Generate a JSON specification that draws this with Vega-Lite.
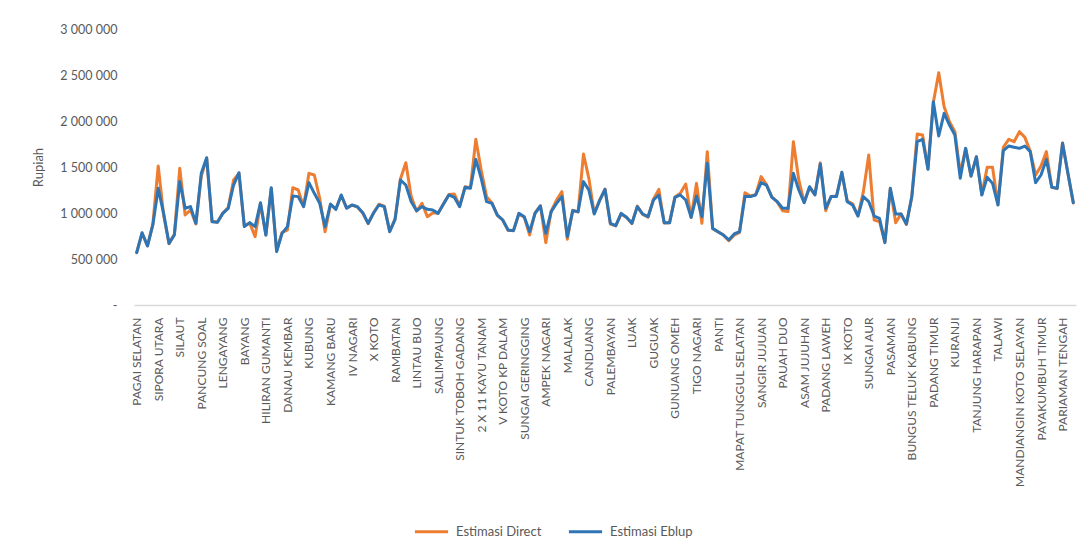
{
  "$schema": "https://vega.github.io/schema/vega-lite/v6.json",
  "autosize": "none",
  "width": 942,
  "height": 276,
  "padding": {"left": 134, "top": 29, "right": 11, "bottom": 241},
  "background": "white",
  "config": {
    "font": "Lato",
    "view": {"stroke": null},
    "axis": {"labelColor": "#595959", "titleColor": "#595959", "labelFont": "Lato", "titleFont": "Lato"}
  },
  "data": {
    "values": [
      {"no": 0, "kecamatan": "PAGAI SELATAN", "Estimasi Direct": 569000, "Estimasi Eblup": 569000},
      {"no": 1, "Estimasi Direct": 780000, "Estimasi Eblup": 786000},
      {"no": 2, "Estimasi Direct": 645000, "Estimasi Eblup": 641000},
      {"no": 3, "Estimasi Direct": 880000, "Estimasi Eblup": 870000},
      {"no": 4, "kecamatan": "SIPORA UTARA", "Estimasi Direct": 1511000, "Estimasi Eblup": 1268000},
      {"no": 5, "Estimasi Direct": 980000, "Estimasi Eblup": 996000},
      {"no": 6, "Estimasi Direct": 665000, "Estimasi Eblup": 670000},
      {"no": 7, "Estimasi Direct": 770000, "Estimasi Eblup": 761000},
      {"no": 8, "kecamatan": "SILAUT", "Estimasi Direct": 1486000, "Estimasi Eblup": 1341000},
      {"no": 9, "Estimasi Direct": 978000, "Estimasi Eblup": 1051000},
      {"no": 10, "Estimasi Direct": 1033000, "Estimasi Eblup": 1069000},
      {"no": 11, "Estimasi Direct": 880000, "Estimasi Eblup": 888000},
      {"no": 12, "kecamatan": "PANCUNG SOAL", "Estimasi Direct": 1400000, "Estimasi Eblup": 1431000},
      {"no": 13, "Estimasi Direct": 1595000, "Estimasi Eblup": 1601000},
      {"no": 14, "Estimasi Direct": 910000, "Estimasi Eblup": 906000},
      {"no": 15, "Estimasi Direct": 900000, "Estimasi Eblup": 899000},
      {"no": 16, "kecamatan": "LENGAYANG", "Estimasi Direct": 1000000, "Estimasi Eblup": 996000},
      {"no": 17, "Estimasi Direct": 1060000, "Estimasi Eblup": 1051000},
      {"no": 18, "Estimasi Direct": 1359000, "Estimasi Eblup": 1304000},
      {"no": 19, "Estimasi Direct": 1430000, "Estimasi Eblup": 1438000},
      {"no": 20, "kecamatan": "BAYANG", "Estimasi Direct": 860000, "Estimasi Eblup": 852000},
      {"no": 21, "Estimasi Direct": 890000, "Estimasi Eblup": 895000},
      {"no": 22, "Estimasi Direct": 743000, "Estimasi Eblup": 852000},
      {"no": 23, "Estimasi Direct": 1100000, "Estimasi Eblup": 1112000},
      {"no": 24, "kecamatan": "HILIRAN GUMANTI", "Estimasi Direct": 760000, "Estimasi Eblup": 761000},
      {"no": 25, "Estimasi Direct": 1270000, "Estimasi Eblup": 1275000},
      {"no": 26, "Estimasi Direct": 590000, "Estimasi Eblup": 580000},
      {"no": 27, "Estimasi Direct": 790000, "Estimasi Eblup": 779000},
      {"no": 28, "kecamatan": "DANAU KEMBAR", "Estimasi Direct": 815000, "Estimasi Eblup": 852000},
      {"no": 29, "Estimasi Direct": 1275000, "Estimasi Eblup": 1185000},
      {"no": 30, "Estimasi Direct": 1250000, "Estimasi Eblup": 1178000},
      {"no": 31, "Estimasi Direct": 1070000, "Estimasi Eblup": 1069000},
      {"no": 32, "kecamatan": "KUBUNG", "Estimasi Direct": 1431000, "Estimasi Eblup": 1330000},
      {"no": 33, "Estimasi Direct": 1413000, "Estimasi Eblup": 1214000},
      {"no": 34, "Estimasi Direct": 1159000, "Estimasi Eblup": 1105000},
      {"no": 35, "Estimasi Direct": 797000, "Estimasi Eblup": 852000},
      {"no": 36, "kecamatan": "KAMANG BARU", "Estimasi Direct": 1090000, "Estimasi Eblup": 1098000},
      {"no": 37, "Estimasi Direct": 1045000, "Estimasi Eblup": 1040000},
      {"no": 38, "Estimasi Direct": 1190000, "Estimasi Eblup": 1196000},
      {"no": 39, "Estimasi Direct": 1055000, "Estimasi Eblup": 1051000},
      {"no": 40, "kecamatan": "IV NAGARI", "Estimasi Direct": 1085000, "Estimasi Eblup": 1087000},
      {"no": 41, "Estimasi Direct": 1065000, "Estimasi Eblup": 1069000},
      {"no": 42, "Estimasi Direct": 1000000, "Estimasi Eblup": 1004000},
      {"no": 43, "Estimasi Direct": 885000, "Estimasi Eblup": 888000},
      {"no": 44, "kecamatan": "X KOTO", "Estimasi Direct": 1000000, "Estimasi Eblup": 1000000},
      {"no": 45, "Estimasi Direct": 1095000, "Estimasi Eblup": 1087000},
      {"no": 46, "Estimasi Direct": 1075000, "Estimasi Eblup": 1069000},
      {"no": 47, "Estimasi Direct": 800000, "Estimasi Eblup": 797000},
      {"no": 48, "kecamatan": "RAMBATAN", "Estimasi Direct": 935000, "Estimasi Eblup": 931000},
      {"no": 49, "Estimasi Direct": 1370000, "Estimasi Eblup": 1359000},
      {"no": 50, "Estimasi Direct": 1547000, "Estimasi Eblup": 1304000},
      {"no": 51, "Estimasi Direct": 1178000, "Estimasi Eblup": 1123000},
      {"no": 52, "kecamatan": "LINTAU BUO", "Estimasi Direct": 1020000, "Estimasi Eblup": 1025000},
      {"no": 53, "Estimasi Direct": 1105000, "Estimasi Eblup": 1069000},
      {"no": 54, "Estimasi Direct": 960000, "Estimasi Eblup": 1040000},
      {"no": 55, "Estimasi Direct": 1000000, "Estimasi Eblup": 1033000},
      {"no": 56, "kecamatan": "SALIMPAUNG", "Estimasi Direct": 1000000, "Estimasi Eblup": 996000},
      {"no": 57, "Estimasi Direct": 1100000, "Estimasi Eblup": 1098000},
      {"no": 58, "Estimasi Direct": 1200000, "Estimasi Eblup": 1196000},
      {"no": 59, "Estimasi Direct": 1207000, "Estimasi Eblup": 1170000},
      {"no": 60, "kecamatan": "SINTUK TOBOH GADANG", "Estimasi Direct": 1075000, "Estimasi Eblup": 1069000},
      {"no": 61, "Estimasi Direct": 1285000, "Estimasi Eblup": 1279000},
      {"no": 62, "Estimasi Direct": 1275000, "Estimasi Eblup": 1268000},
      {"no": 63, "Estimasi Direct": 1801000, "Estimasi Eblup": 1583000},
      {"no": 64, "kecamatan": "2 X 11 KAYU TANAM", "Estimasi Direct": 1467000, "Estimasi Eblup": 1377000},
      {"no": 65, "Estimasi Direct": 1178000, "Estimasi Eblup": 1123000},
      {"no": 66, "Estimasi Direct": 1110000, "Estimasi Eblup": 1105000},
      {"no": 67, "Estimasi Direct": 975000, "Estimasi Eblup": 978000},
      {"no": 68, "kecamatan": "V KOTO KP DALAM", "Estimasi Direct": 925000, "Estimasi Eblup": 924000},
      {"no": 69, "Estimasi Direct": 810000, "Estimasi Eblup": 815000},
      {"no": 70, "Estimasi Direct": 810000, "Estimasi Eblup": 808000},
      {"no": 71, "Estimasi Direct": 990000, "Estimasi Eblup": 996000},
      {"no": 72, "kecamatan": "SUNGAI GERINGGING", "Estimasi Direct": 955000, "Estimasi Eblup": 960000},
      {"no": 73, "Estimasi Direct": 761000, "Estimasi Eblup": 797000},
      {"no": 74, "Estimasi Direct": 1000000, "Estimasi Eblup": 996000},
      {"no": 75, "Estimasi Direct": 1080000, "Estimasi Eblup": 1076000},
      {"no": 76, "kecamatan": "AMPEK NAGARI", "Estimasi Direct": 678000, "Estimasi Eblup": 779000},
      {"no": 77, "Estimasi Direct": 1020000, "Estimasi Eblup": 1015000},
      {"no": 78, "Estimasi Direct": 1141000, "Estimasi Eblup": 1105000},
      {"no": 79, "Estimasi Direct": 1232000, "Estimasi Eblup": 1178000},
      {"no": 80, "kecamatan": "MALALAK", "Estimasi Direct": 714000, "Estimasi Eblup": 743000},
      {"no": 81, "Estimasi Direct": 1030000, "Estimasi Eblup": 1025000},
      {"no": 82, "Estimasi Direct": 1010000, "Estimasi Eblup": 1015000},
      {"no": 83, "Estimasi Direct": 1641000, "Estimasi Eblup": 1341000},
      {"no": 84, "kecamatan": "CANDUANG", "Estimasi Direct": 1377000, "Estimasi Eblup": 1250000},
      {"no": 85, "Estimasi Direct": 995000, "Estimasi Eblup": 989000},
      {"no": 86, "Estimasi Direct": 1140000, "Estimasi Eblup": 1134000},
      {"no": 87, "Estimasi Direct": 1260000, "Estimasi Eblup": 1257000},
      {"no": 88, "kecamatan": "PALEMBAYAN", "Estimasi Direct": 880000, "Estimasi Eblup": 888000},
      {"no": 89, "Estimasi Direct": 860000, "Estimasi Eblup": 862000},
      {"no": 90, "Estimasi Direct": 990000, "Estimasi Eblup": 996000},
      {"no": 91, "Estimasi Direct": 950000, "Estimasi Eblup": 953000},
      {"no": 92, "kecamatan": "LUAK", "Estimasi Direct": 885000, "Estimasi Eblup": 888000},
      {"no": 93, "Estimasi Direct": 1075000, "Estimasi Eblup": 1069000},
      {"no": 94, "Estimasi Direct": 985000, "Estimasi Eblup": 989000},
      {"no": 95, "Estimasi Direct": 955000, "Estimasi Eblup": 960000},
      {"no": 96, "kecamatan": "GUGUAK", "Estimasi Direct": 1150000, "Estimasi Eblup": 1141000},
      {"no": 97, "Estimasi Direct": 1257000, "Estimasi Eblup": 1196000},
      {"no": 98, "Estimasi Direct": 890000, "Estimasi Eblup": 895000},
      {"no": 99, "Estimasi Direct": 895000, "Estimasi Eblup": 895000},
      {"no": 100, "kecamatan": "GUNUANG OMEH", "Estimasi Direct": 1175000, "Estimasi Eblup": 1170000},
      {"no": 101, "Estimasi Direct": 1214000, "Estimasi Eblup": 1196000},
      {"no": 102, "Estimasi Direct": 1315000, "Estimasi Eblup": 1141000},
      {"no": 103, "Estimasi Direct": 950000, "Estimasi Eblup": 953000},
      {"no": 104, "kecamatan": "TIGO NAGARI", "Estimasi Direct": 1322000, "Estimasi Eblup": 1185000},
      {"no": 105, "Estimasi Direct": 888000, "Estimasi Eblup": 960000},
      {"no": 106, "Estimasi Direct": 1667000, "Estimasi Eblup": 1540000},
      {"no": 107, "Estimasi Direct": 830000, "Estimasi Eblup": 833000},
      {"no": 108, "kecamatan": "PANTI", "Estimasi Direct": 795000, "Estimasi Eblup": 797000},
      {"no": 109, "Estimasi Direct": 760000, "Estimasi Eblup": 761000},
      {"no": 110, "Estimasi Direct": 700000, "Estimasi Eblup": 707000},
      {"no": 111, "Estimasi Direct": 760000, "Estimasi Eblup": 772000},
      {"no": 112, "kecamatan": "MAPAT TUNGGUL SELATAN", "Estimasi Direct": 790000, "Estimasi Eblup": 797000},
      {"no": 113, "Estimasi Direct": 1221000, "Estimasi Eblup": 1178000},
      {"no": 114, "Estimasi Direct": 1185000, "Estimasi Eblup": 1178000},
      {"no": 115, "Estimasi Direct": 1200000, "Estimasi Eblup": 1196000},
      {"no": 116, "kecamatan": "SANGIR JUJUAN", "Estimasi Direct": 1395000, "Estimasi Eblup": 1330000},
      {"no": 117, "Estimasi Direct": 1310000, "Estimasi Eblup": 1304000},
      {"no": 118, "Estimasi Direct": 1175000, "Estimasi Eblup": 1170000},
      {"no": 119, "Estimasi Direct": 1120000, "Estimasi Eblup": 1123000},
      {"no": 120, "kecamatan": "PAUAH DUO", "Estimasi Direct": 1025000, "Estimasi Eblup": 1051000},
      {"no": 121, "Estimasi Direct": 1015000, "Estimasi Eblup": 1051000},
      {"no": 122, "Estimasi Direct": 1775000, "Estimasi Eblup": 1431000},
      {"no": 123, "Estimasi Direct": 1359000, "Estimasi Eblup": 1250000},
      {"no": 124, "kecamatan": "ASAM JUJUHAN", "Estimasi Direct": 1115000, "Estimasi Eblup": 1112000},
      {"no": 125, "Estimasi Direct": 1280000, "Estimasi Eblup": 1286000},
      {"no": 126, "Estimasi Direct": 1200000, "Estimasi Eblup": 1196000},
      {"no": 127, "Estimasi Direct": 1545000, "Estimasi Eblup": 1533000},
      {"no": 128, "kecamatan": "PADANG LAWEH", "Estimasi Direct": 1025000, "Estimasi Eblup": 1051000},
      {"no": 129, "Estimasi Direct": 1180000, "Estimasi Eblup": 1178000},
      {"no": 130, "Estimasi Direct": 1185000, "Estimasi Eblup": 1178000},
      {"no": 131, "Estimasi Direct": 1440000, "Estimasi Eblup": 1442000},
      {"no": 132, "kecamatan": "IX KOTO", "Estimasi Direct": 1130000, "Estimasi Eblup": 1123000},
      {"no": 133, "Estimasi Direct": 1100000, "Estimasi Eblup": 1087000},
      {"no": 134, "Estimasi Direct": 970000, "Estimasi Eblup": 967000},
      {"no": 135, "Estimasi Direct": 1232000, "Estimasi Eblup": 1178000},
      {"no": 136, "kecamatan": "SUNGAI AUR", "Estimasi Direct": 1630000, "Estimasi Eblup": 1123000},
      {"no": 137, "Estimasi Direct": 924000, "Estimasi Eblup": 967000},
      {"no": 138, "Estimasi Direct": 906000, "Estimasi Eblup": 942000},
      {"no": 139, "Estimasi Direct": 680000, "Estimasi Eblup": 678000},
      {"no": 140, "kecamatan": "PASAMAN", "Estimasi Direct": 1265000, "Estimasi Eblup": 1268000},
      {"no": 141, "Estimasi Direct": 895000, "Estimasi Eblup": 989000},
      {"no": 142, "Estimasi Direct": 990000, "Estimasi Eblup": 989000},
      {"no": 143, "Estimasi Direct": 875000, "Estimasi Eblup": 880000},
      {"no": 144, "kecamatan": "BUNGUS TELUK KABUNG", "Estimasi Direct": 1180000, "Estimasi Eblup": 1178000},
      {"no": 145, "Estimasi Direct": 1859000, "Estimasi Eblup": 1775000},
      {"no": 146, "Estimasi Direct": 1848000, "Estimasi Eblup": 1801000},
      {"no": 147, "Estimasi Direct": 1480000, "Estimasi Eblup": 1475000},
      {"no": 148, "kecamatan": "PADANG TIMUR", "Estimasi Direct": 2200000, "Estimasi Eblup": 2210000},
      {"no": 149, "Estimasi Direct": 2525000, "Estimasi Eblup": 1837000},
      {"no": 150, "Estimasi Direct": 2156000, "Estimasi Eblup": 2083000},
      {"no": 151, "Estimasi Direct": 1993000, "Estimasi Eblup": 1956000},
      {"no": 152, "kecamatan": "KURANJI", "Estimasi Direct": 1884000, "Estimasi Eblup": 1848000},
      {"no": 153, "Estimasi Direct": 1431000, "Estimasi Eblup": 1377000},
      {"no": 154, "Estimasi Direct": 1700000, "Estimasi Eblup": 1703000},
      {"no": 155, "Estimasi Direct": 1400000, "Estimasi Eblup": 1402000},
      {"no": 156, "kecamatan": "TANJUNG HARAPAN", "Estimasi Direct": 1610000, "Estimasi Eblup": 1612000},
      {"no": 157, "Estimasi Direct": 1200000, "Estimasi Eblup": 1196000},
      {"no": 158, "Estimasi Direct": 1496000, "Estimasi Eblup": 1388000},
      {"no": 159, "Estimasi Direct": 1496000, "Estimasi Eblup": 1322000},
      {"no": 160, "kecamatan": "TALAWI", "Estimasi Direct": 1090000, "Estimasi Eblup": 1087000},
      {"no": 161, "Estimasi Direct": 1714000, "Estimasi Eblup": 1678000},
      {"no": 162, "Estimasi Direct": 1801000, "Estimasi Eblup": 1728000},
      {"no": 163, "Estimasi Direct": 1775000, "Estimasi Eblup": 1714000},
      {"no": 164, "kecamatan": "MANDIANGIN KOTO SELAYAN", "Estimasi Direct": 1884000, "Estimasi Eblup": 1703000},
      {"no": 165, "Estimasi Direct": 1822000, "Estimasi Eblup": 1728000},
      {"no": 166, "Estimasi Direct": 1670000, "Estimasi Eblup": 1667000},
      {"no": 167, "Estimasi Direct": 1413000, "Estimasi Eblup": 1330000},
      {"no": 168, "kecamatan": "PAYAKUMBUH TIMUR", "Estimasi Direct": 1511000, "Estimasi Eblup": 1413000},
      {"no": 169, "Estimasi Direct": 1667000, "Estimasi Eblup": 1583000},
      {"no": 170, "Estimasi Direct": 1280000, "Estimasi Eblup": 1279000},
      {"no": 171, "Estimasi Direct": 1265000, "Estimasi Eblup": 1268000},
      {"no": 172, "kecamatan": "PARIAMAN TENGAH", "Estimasi Direct": 1760000, "Estimasi Eblup": 1757000},
      {"no": 173, "Estimasi Direct": 1430000, "Estimasi Eblup": 1431000},
      {"no": 174, "Estimasi Direct": 1110000, "Estimasi Eblup": 1112000}
    ]
  },
  "transform": [
    {"fold": ["Estimasi Direct", "Estimasi Eblup"], "as": ["series", "rupiah"]}
  ],
  "mark": {"type": "line", "strokeWidth": 3, "strokeJoin": "round", "strokeCap": "round"},
  "encoding": {
    "x": {
      "field": "no",
      "type": "quantitative",
      "scale": {"domain": [-0.5, 174.5], "nice": false, "zero": false},
      "axis": {
        "title": null,
        "values": [0, 4, 8, 12, 16, 20, 24, 28, 32, 36, 40, 44, 48, 52, 56, 60, 64, 68, 72, 76, 80, 84, 88, 92, 96, 100, 104, 108, 112, 116, 120, 124, 128, 132, 136, 140, 144, 148, 152, 156, 160, 164, 168, 172],
        "labelExpr": "['PAGAI SELATAN','SIPORA UTARA','SILAUT','PANCUNG SOAL','LENGAYANG','BAYANG','HILIRAN GUMANTI','DANAU KEMBAR','KUBUNG','KAMANG BARU','IV NAGARI','X KOTO','RAMBATAN','LINTAU BUO','SALIMPAUNG','SINTUK TOBOH GADANG','2 X 11 KAYU TANAM','V KOTO KP DALAM','SUNGAI GERINGGING','AMPEK NAGARI','MALALAK','CANDUANG','PALEMBAYAN','LUAK','GUGUAK','GUNUANG OMEH','TIGO NAGARI','PANTI','MAPAT TUNGGUL SELATAN','SANGIR JUJUAN','PAUAH DUO','ASAM JUJUHAN','PADANG LAWEH','IX KOTO','SUNGAI AUR','PASAMAN','BUNGUS TELUK KABUNG','PADANG TIMUR','KURANJI','TANJUNG HARAPAN','TALAWI','MANDIANGIN KOTO SELAYAN','PAYAKUMBUH TIMUR','PARIAMAN TENGAH'][datum.value / 4]",
        "labelAngle": -90,
        "labelAlign": "right",
        "labelBaseline": "middle",
        "labelFontSize": 12,
        "labelPadding": 12,
        "labelOverlap": false,
        "labelBound": false,
        "labelFlush": false,
        "ticks": false,
        "grid": false,
        "domainColor": "#d9d9d9",
        "domainWidth": 1.5
      }
    },
    "y": {
      "field": "rupiah",
      "type": "quantitative",
      "scale": {"domain": [0, 3000000], "nice": false},
      "axis": {
        "title": "Rupiah",
        "titleFontSize": 13,
        "titleFontWeight": "normal",
        "titleAngle": -90,
        "titleX": -96,
        "titleY": 138,
        "titleAlign": "center",
        "titleBaseline": "middle",
        "values": [0, 500000, 1000000, 1500000, 2000000, 2500000, 3000000],
        "labelExpr": "datum.value === 0 ? '-' : replace(format(datum.value, ','), regexp(',', 'g'), ' ')",
        "labelFontSize": 12.5,
        "labelPadding": 17,
        "ticks": false,
        "domain": false,
        "grid": false
      }
    },
    "color": {
      "field": "series",
      "type": "nominal",
      "scale": {"domain": ["Estimasi Direct", "Estimasi Eblup"], "range": ["#ED7D31", "#2E75B6"]},
      "legend": {
        "title": null,
        "orient": "none",
        "legendX": 279,
        "legendY": 484,
        "direction": "horizontal",
        "symbolType": "stroke",
        "symbolStrokeWidth": 3,
        "symbolSize": 1100,
        "labelFontSize": 13,
        "labelColor": "#595959",
        "labelFont": "Lato",
        "labelOffset": 6,
        "columnPadding": 20
      }
    }
  }
}
